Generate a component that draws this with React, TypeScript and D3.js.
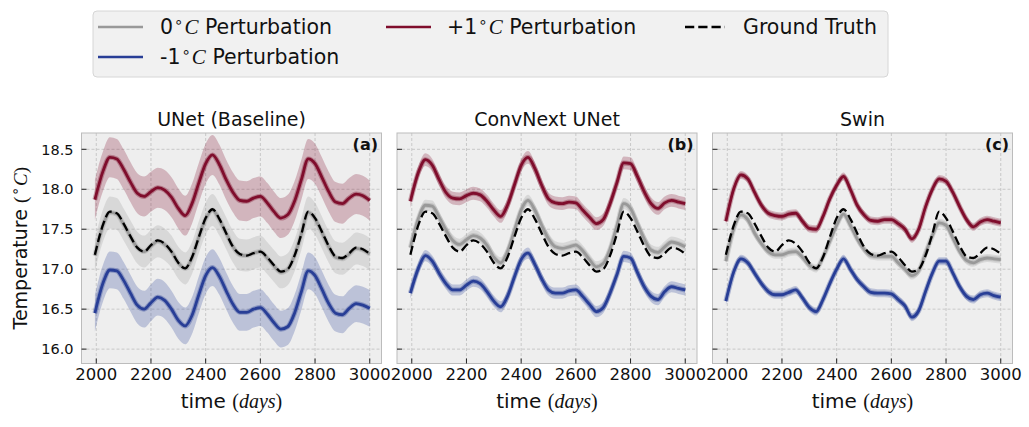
import React from "react";
import * as d3 from "d3";

// ---------- data ----------
const days = [1995, 2025, 2050, 2075, 2100, 2125, 2150, 2175, 2200, 2225, 2250, 2275, 2300, 2325, 2350, 2375, 2400, 2425, 2450, 2475, 2500, 2525, 2550, 2575, 2600, 2625, 2650, 2675, 2700, 2725, 2750, 2775, 2800, 2825, 2850, 2875, 2900, 2925, 2950, 2975, 3000];

const groundTruth = [17.18, 17.56, 17.72, 17.70, 17.57, 17.41, 17.27, 17.22, 17.30, 17.36, 17.32, 17.22, 17.08, 17.01, 17.15, 17.40, 17.64, 17.75, 17.63, 17.45, 17.28, 17.19, 17.17, 17.20, 17.22, 17.15, 17.05, 16.97, 17.00, 17.17, 17.44, 17.72, 17.64, 17.47, 17.29, 17.16, 17.14, 17.20, 17.27, 17.25, 17.19];

const unetZero = [17.17, 17.55, 17.71, 17.69, 17.56, 17.41, 17.27, 17.22, 17.29, 17.35, 17.31, 17.22, 17.08, 17.01, 17.14, 17.40, 17.63, 17.74, 17.62, 17.45, 17.28, 17.18, 17.17, 17.20, 17.22, 17.14, 17.04, 16.96, 17.00, 17.17, 17.44, 17.71, 17.63, 17.46, 17.28, 17.15, 17.13, 17.19, 17.26, 17.24, 17.19];
const unetPlus = [17.87, 18.23, 18.40, 18.38, 18.25, 18.09, 17.95, 17.91, 17.97, 18.02, 17.99, 17.90, 17.76, 17.67, 17.82, 18.08, 18.32, 18.43, 18.31, 18.12, 17.96, 17.86, 17.85, 17.89, 17.91, 17.83, 17.72, 17.64, 17.68, 17.85, 18.12, 18.38, 18.32, 18.15, 17.97, 17.84, 17.82, 17.89, 17.94, 17.92, 17.86];
const unetMinus = [16.45, 16.83, 16.99, 16.98, 16.86, 16.70, 16.55, 16.50, 16.58, 16.65, 16.61, 16.50, 16.36, 16.29, 16.42, 16.68, 16.92, 17.02, 16.91, 16.73, 16.56, 16.46, 16.46, 16.50, 16.52, 16.44, 16.33, 16.25, 16.28, 16.45, 16.72, 16.98, 16.92, 16.75, 16.57, 16.45, 16.43, 16.51, 16.57, 16.55, 16.51];

const convZero = [17.27, 17.64, 17.80, 17.79, 17.65, 17.49, 17.36, 17.31, 17.37, 17.42, 17.39, 17.30, 17.15, 17.08, 17.22, 17.48, 17.74, 17.86, 17.74, 17.55, 17.38, 17.28, 17.26, 17.28, 17.30, 17.23, 17.12, 17.03, 17.07, 17.25, 17.54, 17.82, 17.76, 17.57, 17.38, 17.24, 17.21, 17.28, 17.34, 17.32, 17.28];
const convPlus = [17.85, 18.22, 18.37, 18.30, 18.12, 17.96, 17.89, 17.88, 17.92, 17.95, 17.93, 17.85, 17.74, 17.66, 17.80, 18.05, 18.30, 18.40, 18.26, 18.05, 17.88, 17.83, 17.82, 17.84, 17.83, 17.74, 17.65, 17.57, 17.62, 17.82, 18.08, 18.33, 18.32, 18.16, 17.97, 17.82, 17.76, 17.83, 17.86, 17.84, 17.82];
const convMinus = [16.70, 17.02, 17.17, 17.10, 16.95, 16.82, 16.74, 16.74, 16.80, 16.85, 16.82, 16.72, 16.60, 16.53, 16.66, 16.90, 17.12, 17.20, 17.06, 16.88, 16.74, 16.70, 16.70, 16.73, 16.74, 16.66, 16.56, 16.47, 16.52, 16.70, 16.93, 17.16, 17.14, 16.96, 16.78, 16.66, 16.62, 16.72, 16.78, 16.76, 16.74];

const swinZero = [17.10, 17.52, 17.68, 17.62, 17.45, 17.32, 17.22, 17.18, 17.18, 17.21, 17.22, 17.15, 17.05, 17.01, 17.15, 17.35, 17.55, 17.69, 17.55, 17.38, 17.25, 17.17, 17.16, 17.16, 17.16, 17.08, 17.00, 16.92, 16.98, 17.20, 17.42, 17.58, 17.55, 17.39, 17.22, 17.11, 17.08, 17.12, 17.14, 17.13, 17.12];
const swinPlus = [17.60, 18.02, 18.18, 18.13, 17.96, 17.80, 17.70, 17.67, 17.66, 17.69, 17.70, 17.60, 17.51, 17.50, 17.66, 17.88, 18.05, 18.16, 18.00, 17.80, 17.68, 17.61, 17.60, 17.62, 17.62, 17.57, 17.50, 17.38, 17.50, 17.78, 18.00, 18.13, 18.10, 17.96, 17.78, 17.62, 17.53, 17.59, 17.62, 17.60, 17.58];
const swinMinus = [16.60, 16.98, 17.13, 17.08, 16.95, 16.82, 16.72, 16.68, 16.68, 16.71, 16.74, 16.64, 16.52, 16.47, 16.62, 16.82, 17.00, 17.13, 17.00, 16.87, 16.78, 16.71, 16.70, 16.70, 16.69, 16.62, 16.54, 16.40, 16.48, 16.72, 16.95, 17.10, 17.10, 16.95, 16.78, 16.66, 16.62, 16.68, 16.70, 16.67, 16.65];

// half-width of the shaded band: [0°C, +1°C, -1°C]
const unetSpread = [0.2, 0.25, 0.23];
const convSpread = [0.07, 0.08, 0.07];
const swinSpread = [0.05, 0.05, 0.05];

const panelTitles = ["UNet (Baseline)", "ConvNext UNet", "Swin"];
const panelTags = ["(a)", "(b)", "(c)"];
const xTicks = [2000, 2200, 2400, 2600, 2800, 3000];
const yTicks = [16.0, 16.5, 17.0, 17.5, 18.0, 18.5];

// ---------- style ----------
const GRAY = "#999999";
const RED = "#7f0d2c";
const BLUE = "#283e96";
const FONT = "DejaVu Sans";
const SERIF = "Liberation Serif";

const panelLefts = [81.5, 397, 712.5];
const panelW = 300;
const TOP = 133;
const BOTTOM = 363.5;

function DegLabel({ prefix, suffix }: { prefix: string; suffix: string }) {
  return (
    <>
      <tspan>{prefix}</tspan>
      <tspan dx={1} dy={-7} fontSize={15}>∘</tspan>
      <tspan dx={1} dy={7} fontFamily={SERIF} fontStyle="italic" fontSize={21}>C</tspan>
      <tspan>{suffix}</tspan>
    </>
  );
}

export default function App() {
  const y = d3.scaleLinear().domain([15.82, 18.704]).range([BOTTOM, TOP]);
  const panels = [
    { zero: unetZero, plus: unetPlus, minus: unetMinus, spread: unetSpread },
    { zero: convZero, plus: convPlus, minus: convMinus, spread: convSpread },
    { zero: swinZero, plus: swinPlus, minus: swinMinus, spread: swinSpread },
  ];

  return (
    <div style={{ position: "absolute", left: 0, top: 0 }}>
      <svg width={1029} height={427} style={{ display: "block", background: "#ffffff" }} fontFamily={FONT}>
        {panels.map((p, pi) => {
          const left = panelLefts[pi];
          const x = d3.scaleLinear().domain([1946, 3043]).range([left, left + panelW]);
          const line = d3
            .line<number>()
            .x((_, i) => x(days[i]))
            .y((v) => y(v))
            .curve(d3.curveMonotoneX);
          const band = (vals: number[], s: number) =>
            d3
              .area<number>()
              .x((_, i) => x(days[i]))
              .y0((v) => y(v - s))
              .y1((v) => y(v + s))
              .curve(d3.curveMonotoneX)(vals) || "";
          const series = [
            { vals: p.zero, color: GRAY, s: p.spread[0] },
            { vals: p.plus, color: RED, s: p.spread[1] },
            { vals: p.minus, color: BLUE, s: p.spread[2] },
          ];
          const cx = left + panelW / 2;
          return (
            <g key={pi}>
              <rect x={left} y={TOP} width={panelW} height={BOTTOM - TOP} fill="#eeeeee" />
              {xTicks.map((t) => (
                <line key={"gx" + t} x1={x(t)} x2={x(t)} y1={TOP} y2={BOTTOM} stroke="#b8b8b8" strokeWidth={0.7} strokeDasharray="3,2" />
              ))}
              {yTicks.map((t) => (
                <line key={"gy" + t} x1={left} x2={left + panelW} y1={y(t)} y2={y(t)} stroke="#b8b8b8" strokeWidth={0.7} strokeDasharray="3,2" />
              ))}
              {series.map((s, si) => (
                <path key={"b" + si} d={band(s.vals, s.s)} fill={s.color} fillOpacity={0.25} />
              ))}
              {series.map((s, si) => (
                <path key={"h" + si} d={line(s.vals) || ""} fill="none" stroke={s.color} strokeOpacity={0.35} strokeWidth={5} strokeLinejoin="round" />
              ))}
              {series.map((s, si) => (
                <path key={"l" + si} d={line(s.vals) || ""} fill="none" stroke={s.color} strokeWidth={2.8} strokeLinejoin="round" />
              ))}
              <path d={line(groundTruth) || ""} fill="none" stroke="#000000" strokeWidth={2.3} strokeDasharray="9,4" />
              <rect x={left} y={TOP} width={panelW} height={BOTTOM - TOP} fill="none" stroke="#bcbcbc" strokeWidth={1} />
              {xTicks.map((t) => (
                <g key={"tx" + t}>
                  <line x1={x(t)} x2={x(t)} y1={BOTTOM} y2={BOTTOM - 5} stroke="#222" strokeWidth={1} />
                  <text x={x(t)} y={379.5} textAnchor="middle" fontSize={16.5} fill="#111">
                    {t}
                  </text>
                </g>
              ))}
              {yTicks.map((t) => (
                <g key={"ty" + t}>
                  <line x1={left} x2={left + 5} y1={y(t)} y2={y(t)} stroke="#222" strokeWidth={1} />
                  {pi === 0 && (
                    <text x={left - 8} y={y(t)} dy="0.36em" textAnchor="end" fontSize={14.5} fill="#111">
                      {t.toFixed(1)}
                    </text>
                  )}
                </g>
              ))}
              <text x={cx} y={126} textAnchor="middle" fontSize={19} fill="#111">
                {panelTitles[pi]}
              </text>
              <text x={left + panelW - 3.5} y={150} textAnchor="end" fontSize={16} fontWeight="bold" fill="#111">
                {panelTags[pi]}
              </text>
              <text x={cx} y={408} textAnchor="middle" fontSize={20} fill="#111">
                <tspan>time </tspan>
                <tspan fontFamily={SERIF}>(</tspan>
                <tspan fontFamily={SERIF} fontStyle="italic">days</tspan>
                <tspan fontFamily={SERIF}>)</tspan>
              </text>
            </g>
          );
        })}

        <text transform={`translate(27,${(TOP + BOTTOM) / 2}) rotate(-90)`} textAnchor="middle" fontSize={19} fill="#111">
          <tspan>Temperature </tspan>
          <tspan fontFamily={SERIF}>(</tspan>
          <tspan dx={1} dy={-7} fontSize={14}>∘</tspan>
          <tspan dx={1} dy={7} fontFamily={SERIF} fontStyle="italic">C</tspan>
          <tspan fontFamily={SERIF}>)</tspan>
        </text>

        {/* legend */}
        <rect x={93} y={11} width={795} height={66} rx={4} fill="#f1f1f1" stroke="#d6d6d6" strokeWidth={1} />
        <line x1={98} x2={143} y1={27} y2={27} stroke={GRAY} strokeWidth={2.6} />
        <text x={160} y={27} dy="0.36em" fontSize={20.5} fill="#111">
          <DegLabel prefix="0" suffix=" Perturbation" />
        </text>
        <line x1={98} x2={143} y1={57} y2={57} stroke={BLUE} strokeWidth={2.6} />
        <text x={160} y={57} dy="0.36em" fontSize={20.5} fill="#111">
          <DegLabel prefix="-1" suffix=" Perturbation" />
        </text>
        <line x1={386} x2={431} y1={27} y2={27} stroke={RED} strokeWidth={2.6} />
        <text x={447} y={27} dy="0.36em" fontSize={20.5} fill="#111">
          <DegLabel prefix="+1" suffix=" Perturbation" />
        </text>
        <line x1={685} x2={725} y1={27} y2={27} stroke="#000" strokeWidth={2.6} strokeDasharray="9.25,4" />
        <text x={743} y={27} dy="0.36em" fontSize={20.5} fill="#111">
          Ground Truth
        </text>
      </svg>
    </div>
  );
}
